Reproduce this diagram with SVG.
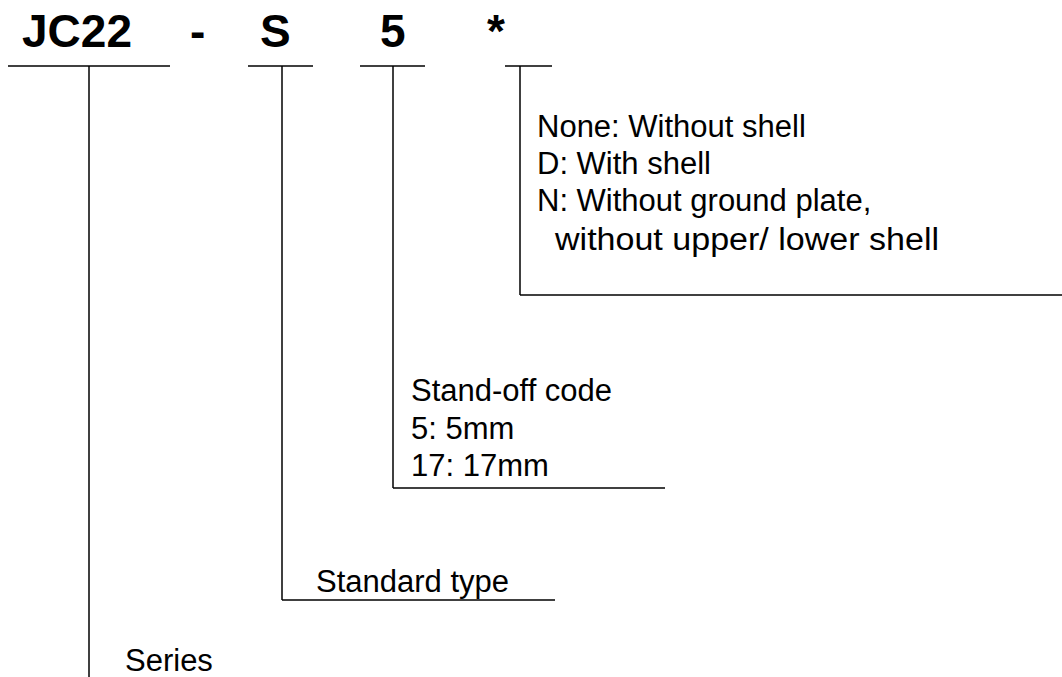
<svg xmlns="http://www.w3.org/2000/svg" width="1062" height="677" viewBox="0 0 1062 677">
<style>
.t{font-family:"Liberation Sans",Arial,sans-serif;font-size:31px;fill:#000}
.h{font-family:"Liberation Sans",Arial,sans-serif;font-size:46px;font-weight:bold;fill:#000}
.c line{stroke:#000;stroke-width:1.5;fill:none}
</style>
<rect width="1062" height="677" fill="#fff"/>
<g id="title">
<text class="h" x="22" y="47">JC22</text>
<text class="h" x="190" y="47">-</text>
<text class="h" x="260" y="47">S</text>
<text class="h" x="380" y="47">5</text>
<text class="h" x="487" y="47">*</text>
</g>
<g class="c" id="connectors">
<line x1="8" y1="66" x2="170" y2="66"/>
<line x1="248" y1="66" x2="313" y2="66"/>
<line x1="360" y1="66" x2="425" y2="66"/>
<line x1="505" y1="66" x2="552" y2="66"/>
<line x1="89" y1="66" x2="89" y2="677"/>
<line x1="282" y1="66" x2="282" y2="600"/>
<line x1="282" y1="600" x2="555" y2="600"/>
<line x1="393" y1="66" x2="393" y2="488"/>
<line x1="393" y1="488" x2="665" y2="488"/>
<line x1="520" y1="66" x2="520" y2="295"/>
<line x1="520" y1="295" x2="1062" y2="295"/>
</g>
<g id="shell">
<text class="t" x="537" y="137">None: Without shell</text>
<text class="t" x="537" y="174">D: With shell</text>
<text class="t" x="537" y="211">N: Without ground plate,</text>
<text class="t" x="555" y="250" textLength="384" lengthAdjust="spacingAndGlyphs">without upper/ lower shell</text>
</g>
<g id="standoff">
<text class="t" x="411" y="401">Stand-off code</text>
<text class="t" x="411" y="439">5: 5mm</text>
<text class="t" x="411" y="476">17: 17mm</text>
</g>
<g id="type">
<text class="t" x="316" y="592">Standard type</text>
</g>
<g id="series">
<text class="t" x="125" y="671">Series</text>
</g>
</svg>
